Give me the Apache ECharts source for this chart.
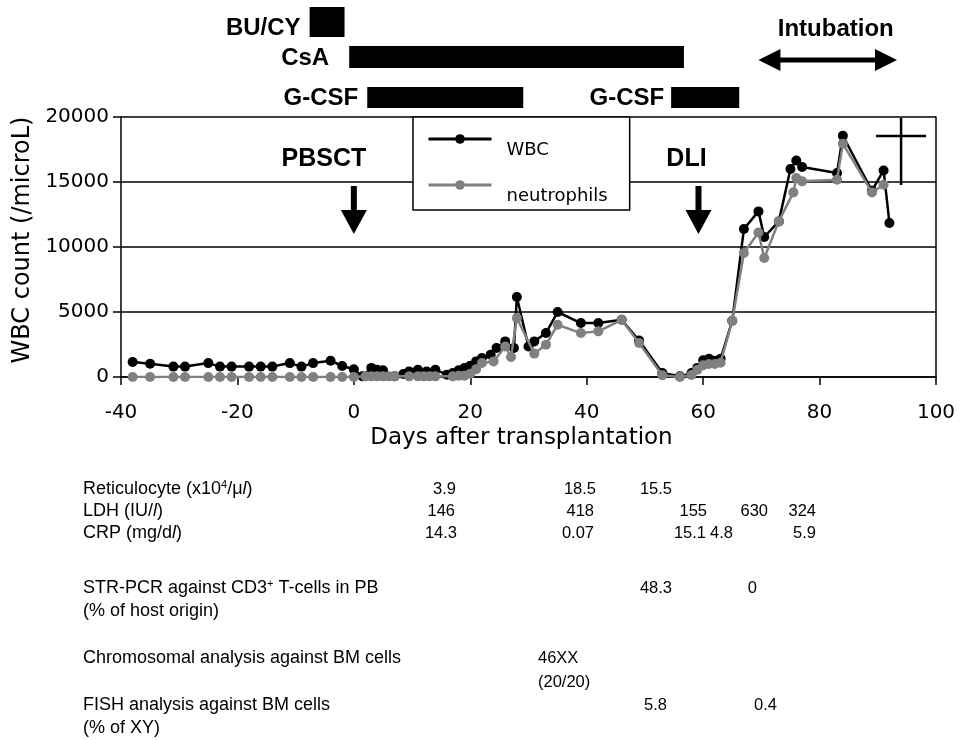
<!DOCTYPE html>
<html><head><meta charset="utf-8">
<script src="https://cdn.jsdelivr.net/npm/echarts@6/dist/echarts.min.js"></script>
<style>html,body{margin:0;padding:0;background:#fff}#c{width:960px;height:740px}</style>
</head><body><div id="c"></div>
<script>
// ---------- data ----------
const wbcDays = [-38,-35,-31,-29,-25,-23,-21,-18,-16,-14,-11,-9,-7,-4,-2,0,1.5,3,4,5,7,8.5,9.5,11,12.5,14,16,17,18,19,20,21,22,23.5,24.5,26,27.5,28,30,31,33,35,39,42,46,49,53,56,58,59,60,61,62,63,65,67,69.5,70.5,73,75,76,77,83,84,89,91,92];
const wbcValues = [1150,1020,800,800,1070,800,800,800,800,800,1070,800,1070,1250,850,600,50,700,560,510,50,230,430,560,430,560,180,310,510,690,870,1200,1460,1720,2230,2740,2230,6150,2350,2740,3380,5000,4150,4150,4400,2800,300,50,300,700,1280,1400,1250,1400,4330,11380,12740,10770,11970,16000,16660,16150,15690,18560,14330,15890,11850];
const neuDays = [-38,-35,-31,-29,-25,-23,-21,-18,-16,-14,-11,-9,-7,-4,-2,0,2,3,4,5,6,7,9.5,11,12,13,14,17,18,19,20,21,22,24,26,27,28,31,33,35,39,42,46,49,53,56,58,59,60,61,62,63,65,67,69.5,70.5,73,75.5,76,77,83,84,89,91];
const neuValues = [0,0,0,0,0,0,0,0,0,0,0,0,0,0,0,0,50,50,50,50,50,50,50,50,50,50,50,50,100,100,250,600,1080,1200,2350,1540,4540,1800,2480,4020,3380,3510,4400,2620,130,0,150,560,900,1000,1000,1100,4330,9540,11120,9150,11970,14200,15310,15050,15180,17950,14200,14790];
const seriesNames = ['WBC', 'neutrophils'];

const treatmentNames = ['BU/CY', 'CsA', 'G-CSF', 'G-CSF'];
const treatmentRows = [0, 1, 2, 2];
const treatmentStart = [-7.6, -0.8, 2.3, 54.5];
const treatmentEnd = [-1.6, 56.7, 29.1, 66.2];
const intubationLabel = 'Intubation';
const intubationStart = 69.5;
const intubationEnd = 93.3;
const eventNames = ['PBSCT', 'DLI'];
const eventDays = [0, 59.2];
const deathDay = 94;

const xAxisTitle = 'Days after transplantation';
const yAxisTitle = 'WBC count (/microL)';

// table (text below the chart)
const tableLabels = [
  'Reticulocyte (x10{sup|4}/μ{it|l})',
  'LDH (IU/{it|l})',
  'CRP (mg/d{it|l})',
  'STR-PCR against CD3{sup|+} T-cells in PB',
  '(% of host origin)',
  'Chromosomal analysis against BM cells',
  'FISH analysis against BM cells',
  '(% of XY)'
];
const reticulocyteValues = ['3.9', '18.5', '15.5'];
const ldhValues = ['146', '418', '155', '630', '324'];
const crpValues = ['14.3', '0.07', '15.1', '4.8', '5.9'];
const strPcrValues = ['48.3', '0'];
const chromosomeValues = ['46XX', '(20/20)'];
const fishValues = ['5.8', '0.4'];

// ---------- layout (positions / styles) ----------
const GRID = {left: 121, right: 24, top: 117, bottom: 363};
const rowCenterY = [22, 57, 97.5];
const rowHeight = [30, 22, 21];
const treatmentLabelGap = [9, 20, 9, 7];
const treatmentLabelDy = [6, 1, 1, 1];
const BOLD = 'bold 24px "Liberation Sans", Arial, sans-serif';
const TABLE_FONT = '18px "Liberation Sans", Arial, sans-serif';
const VALUE_FONT = '16.5px "Liberation Sans", Arial, sans-serif';
const labelX = 83;
const labelY = [489, 511, 533, 588, 611, 658, 705, 728];
const tablePlacement = [
  {vals: reticulocyteValues, y: 489, right: [456, 596, 672]},
  {vals: ldhValues, y: 511, right: [455, 594, 707, 768, 816]},
  {vals: crpValues, y: 533, right: [457, 594, 706, 733, 816]},
  {vals: strPcrValues, y: 588, right: [672, 757]},
  {vals: fishValues, y: 705, right: [667, 777]}
];
const chromosomePlacement = {left: 538, y: [658, 682]};

const richStyles = {
  sup: {font: '11px "Liberation Sans", Arial, sans-serif', fill: '#000', verticalAlign: 'top', lineHeight: 20},
  it: {font: 'italic 18px "Liberation Sans", Arial, sans-serif', fill: '#000', lineHeight: 20}
};

const graphics = [];
tableLabels.forEach((t, i) => {
  graphics.push({type: 'text', x: labelX, y: labelY[i], style: {
    text: t, font: TABLE_FONT, fill: '#000', verticalAlign: 'middle', lineHeight: 20,
    rich: richStyles
  }});
});
tablePlacement.forEach(row => {
  row.vals.forEach((v, j) => {
    graphics.push({type: 'text', x: row.right[j], y: row.y, style: {
      text: v, font: VALUE_FONT, fill: '#000', align: 'right', verticalAlign: 'middle'
    }});
  });
});
chromosomeValues.forEach((v, j) => {
  graphics.push({type: 'text', x: chromosomePlacement.left, y: chromosomePlacement.y[j], style: {
    text: v, font: VALUE_FONT, fill: '#000', align: 'left', verticalAlign: 'middle'
  }});
});

const treatmentData = treatmentNames.map((n, i) => [treatmentStart[i], treatmentEnd[i], treatmentRows[i]]);

function renderTreatment(params, api) {
  const i = params.dataIndex;
  const x0 = api.coord([api.value(0), 0])[0];
  const x1 = api.coord([api.value(1), 0])[0];
  const row = api.value(2);
  const cy = rowCenterY[row], h = rowHeight[row];
  return {type: 'group', children: [
    {type: 'rect', shape: {x: x0, y: cy - h / 2, width: x1 - x0, height: h}, style: {fill: '#000'}},
    {type: 'text', style: {text: treatmentNames[i], x: x0 - treatmentLabelGap[i], y: cy + treatmentLabelDy[i],
      align: 'right', verticalAlign: 'middle', font: BOLD, fill: '#000'}}
  ]};
}

function renderIntubation(params, api) {
  const x0 = api.coord([api.value(0), 0])[0];
  const x1 = api.coord([api.value(1), 0])[0];
  const y = 60, hl = 22, hw = 11;
  return {type: 'group', children: [
    {type: 'rect', shape: {x: x0 + hl - 2, y: y - 2.5, width: x1 - x0 - 2 * hl + 4, height: 5}, style: {fill: '#000'}},
    {type: 'polygon', shape: {points: [[x0, y], [x0 + hl, y - hw], [x0 + hl, y + hw]]}, style: {fill: '#000'}},
    {type: 'polygon', shape: {points: [[x1, y], [x1 - hl, y - hw], [x1 - hl, y + hw]]}, style: {fill: '#000'}},
    {type: 'text', style: {text: intubationLabel, x: (x0 + x1) / 2 + 8, y: 29, align: 'center', verticalAlign: 'middle', font: BOLD, fill: '#000'}}
  ]};
}

const eventLabelDx = [-30, -12];
function renderEvent(params, api) {
  const i = params.dataIndex;
  const x = api.coord([api.value(0), 0])[0];
  const top = 186, headTop = 210, tip = 234, hw = 13;
  return {type: 'group', children: [
    {type: 'rect', shape: {x: x - 3, y: top, width: 6, height: headTop - top + 1}, style: {fill: '#000'}},
    {type: 'polygon', shape: {points: [[x - hw, headTop], [x + hw, headTop], [x, tip]]}, style: {fill: '#000'}},
    {type: 'text', style: {text: eventNames[i], x: x + eventLabelDx[i], y: 159, align: 'center', verticalAlign: 'middle', font: 'bold 25px "Liberation Sans", Arial, sans-serif', fill: '#000'}}
  ]};
}

function renderDeath(params, api) {
  const x = api.coord([api.value(0), 0])[0];
  return {type: 'group', children: [
    {type: 'line', shape: {x1: x, y1: 118, x2: x, y2: 185}, style: {stroke: '#000', lineWidth: 2.5}},
    {type: 'line', shape: {x1: x - 25, y1: 136, x2: x + 25, y2: 136}, style: {stroke: '#000', lineWidth: 2.5}}
  ]};
}

const AXIS_FONT = '"DejaVu Sans", sans-serif';

const option = {
  animation: false,
  backgroundColor: '#fff',
  grid: {left: GRID.left, right: GRID.right, top: GRID.top, bottom: GRID.bottom, containLabel: false},
  legend: {
    left: 413, top: 117,
    orient: 'vertical',
    data: seriesNames,
    backgroundColor: '#fff', borderColor: '#000', borderWidth: 1.5, borderRadius: 0,
    padding: [0, 22, 3, 14],
    itemGap: 2, itemWidth: 63, itemHeight: 12,
    formatter: name => '\n' + name,
    lineStyle: {width: 3},
    textStyle: {fontFamily: AXIS_FONT, fontSize: 18, color: '#000', padding: [0, 0, 0, 10], lineHeight: 22},
    selectedMode: false
  },
  xAxis: {
    type: 'value', min: -40, max: 100, interval: 20,
    name: xAxisTitle, nameLocation: 'middle', nameGap: 50,
    nameTextStyle: {fontFamily: AXIS_FONT, fontSize: 23, color: '#000', padding: [0, 14, 0, 0]},
    axisLine: {onZero: false, lineStyle: {color: '#000', width: 1.5}},
    axisTick: {show: true, inside: false, length: 8, lineStyle: {color: '#000', width: 1.5}},
    axisLabel: {fontFamily: AXIS_FONT, fontSize: 20, color: '#000', margin: 26},
    splitLine: {show: false}
  },
  yAxis: [{
    type: 'value', min: 0, max: 20000, interval: 5000,
    name: yAxisTitle, nameLocation: 'middle', nameGap: 82, nameRotate: 90,
    nameTextStyle: {fontFamily: AXIS_FONT, fontSize: 24, color: '#000', padding: [0, 0, 0, 14]},
    axisLine: {show: true, onZero: false, lineStyle: {color: '#000', width: 1.5}},
    axisTick: {show: true, length: 8, lineStyle: {color: '#000', width: 1.5}},
    axisLabel: {fontFamily: AXIS_FONT, fontSize: 20, color: '#000', margin: 12, formatter: v => String(v)},
    splitLine: {show: true, lineStyle: {color: '#000', width: 1.5}}
  }, {
    type: 'value', min: 0, max: 20000, interval: 5000, position: 'right',
    axisLine: {show: true, onZero: false, lineStyle: {color: '#000', width: 1.5}},
    axisTick: {show: false}, axisLabel: {show: false}, splitLine: {show: false}
  }],
  graphic: graphics,
  series: [
    {
      name: seriesNames[0], type: 'line', data: wbcDays.map((d, i) => [d, wbcValues[i]]),
      symbol: 'circle', symbolSize: 10, showAllSymbol: true, z: 3,
      lineStyle: {color: '#000', width: 2.5}, itemStyle: {color: '#000'}
    },
    {
      name: seriesNames[1], type: 'line', data: neuDays.map((d, i) => [d, neuValues[i]]),
      symbol: 'circle', symbolSize: 10, showAllSymbol: true, z: 4,
      lineStyle: {color: '#808080', width: 2.5}, itemStyle: {color: '#808080'}
    },
    {
      type: 'custom', renderItem: renderTreatment, data: treatmentData, clip: false, silent: true,
      encode: {x: [0, 1], y: 2}
    },
    {
      type: 'custom', renderItem: renderIntubation, data: [[intubationStart, intubationEnd, 0]], clip: false, silent: true,
      encode: {x: [0, 1], y: 2}
    },
    {
      type: 'custom', renderItem: renderEvent, data: eventDays.map(d => [d, 0]), clip: false, silent: true,
      encode: {x: 0, y: 1}
    },
    {
      type: 'custom', renderItem: renderDeath, data: [[deathDay, 0]], clip: false, silent: true,
      encode: {x: 0, y: 1}
    }
  ]
};

const chart = echarts.init(document.getElementById('c'), null, {renderer: 'canvas'});
chart.setOption(option);
</script>
</body></html>
